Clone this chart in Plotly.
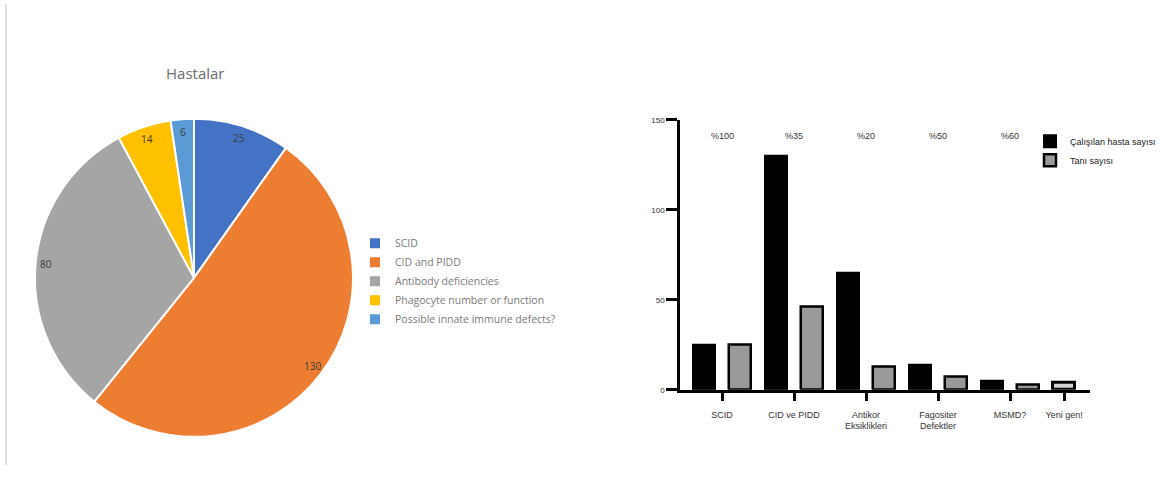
import numpy as np
import plotly.graph_objects as go

W, H = 1169, 486

# Left panel: disease groups (pie)
pie_labels = ["SCID", "CID and PIDD", "Antibody deficiencies",
              "Phagocyte number or function", "Possible innate immune defects?"]
pie_values = [25, 130, 80, 14, 6]
pie_colors = ["#4472C4", "#ED7D31", "#A5A5A5", "#FFC000", "#5B9BD5"]

# Right panel: studied patients vs. diagnoses per group
bar_groups = ["SCID", "CID ve PIDD", "Antikor<br>Eksiklikleri",
              "Fagositer<br>Defektler", "MSMD?"]
calisilan = [25, 130, 65, 14, 5]
tani = [25, 46, 13, 7, 3]
yeni_label = "Yeni gen!"
yeni_value = [4]
oranlar = ["%100", "%35", "%20", "%50", "%60"]


def px_x(v):
    return v / W


def px_y(v):
    return 1 - v / H


fig = go.Figure()

# ---- pie ----
cx, cy, R = 194, 279, 162
fig.add_trace(go.Pie(
    labels=pie_labels, values=pie_values, sort=False,
    direction="clockwise", rotation=0,
    marker=dict(colors=pie_colors, line=dict(color="white", width=2)),
    textinfo="none", legend="legend",
    domain=dict(x=[px_x(cx - R), px_x(cx + R)], y=[px_y(cy + R), px_y(cy - R)]),
))

# value labels placed near the outer edge of each slice
vals = np.array(pie_values, dtype=float)
ends = np.cumsum(vals) / vals.sum() * 2 * np.pi
mids = ends - vals / vals.sum() * np.pi
annotations = []
for v, a in zip(pie_values, mids):
    r = 0.92 * R
    annotations.append(dict(
        x=px_x(cx + r * np.sin(a)), y=px_y(cy - r * np.cos(a)),
        xref="paper", yref="paper", xanchor="center", yanchor="middle",
        text=str(v), showarrow=False,
        font=dict(family="Open Sans", size=10, color="#3a3a3a")))

annotations.append(dict(
    x=px_x(195), y=px_y(70), xref="paper", yref="paper",
    xanchor="center", yanchor="middle", text="Hastalar",
    showarrow=False, font=dict(family="Open Sans", size=15, color="#6e6e6e")))

# ---- grouped bars on a numeric axis (two slots per group) ----
idx = np.arange(len(bar_groups))
x_cal = 2 * idx
x_tani = 2 * idx + 1
x_yeni = [2 * len(bar_groups)]
tick_pos = list(2 * idx + 0.5) + x_yeni
tick_txt = bar_groups + [yeni_label]
bw = 0.61

fig.add_trace(go.Bar(
    x=x_cal, y=calisilan, width=bw, name="Çalışılan hasta sayısı",
    marker=dict(color="black", line=dict(color="black", width=2)),
    legend="legend2", xaxis="x", yaxis="y"))
fig.add_trace(go.Bar(
    x=x_tani, y=tani, width=bw, name="Tanı sayısı",
    marker=dict(color="#9a9a9a", line=dict(color="black", width=2.5)),
    legend="legend2", xaxis="x", yaxis="y"))
fig.add_trace(go.Bar(
    x=x_yeni, y=yeni_value, width=bw, name=yeni_label, showlegend=False,
    marker=dict(color="#d4d4d4", line=dict(color="black", width=3)),
    xaxis="x", yaxis="y"))

for xp, t in zip(2 * idx + 0.5, oranlar):
    annotations.append(dict(
        x=xp, y=141, xref="x", yref="y", text=t, showarrow=False,
        font=dict(family="Liberation Sans", size=9, color="#333333")))

fig.update_layout(
    width=W, height=H, margin=dict(l=0, r=0, t=0, b=0),
    paper_bgcolor="white", plot_bgcolor="white",
    barmode="overlay", bargap=0,
    xaxis=dict(domain=[px_x(680), px_x(1090)], range=[-0.67, 10.72],
               tickvals=tick_pos, ticktext=tick_txt,
               showline=True, linecolor="black", linewidth=3,
               ticks="outside", ticklen=8, tickwidth=2.5, tickcolor="black",
               ticklabelstandoff=6,
               showgrid=False, zeroline=False,
               tickfont=dict(family="Liberation Sans", size=9, color="#333333")),
    yaxis=dict(domain=[px_y(393), px_y(118)], range=[0, 150],
               tickvals=[0, 50, 100, 150],
               showline=True, linecolor="black", linewidth=2.5,
               ticks="outside", ticklen=11, tickwidth=2.5, tickcolor="black",
               showgrid=False, zeroline=False,
               tickfont=dict(family="Liberation Sans", size=8, color="#333333")),
    legend=dict(x=px_x(355), y=px_y(229), xanchor="left", yanchor="top",
                font=dict(family="Open Sans", size=10.5, color="#7a7a7a"),
                bgcolor="rgba(0,0,0,0)", itemwidth=30),
    legend2=dict(x=px_x(1030), y=px_y(125), xanchor="left", yanchor="top",
                 font=dict(family="Liberation Sans", size=9, color="#222222"),
                 bgcolor="rgba(0,0,0,0)", itemwidth=30),
    annotations=annotations,
    shapes=[dict(type="line", xref="paper", yref="paper",
                 x0=px_x(6), x1=px_x(6), y0=px_y(470), y1=1,
                 line=dict(color="#dedede", width=2))],
    showlegend=True,
)

fig.write_html("out.html")
